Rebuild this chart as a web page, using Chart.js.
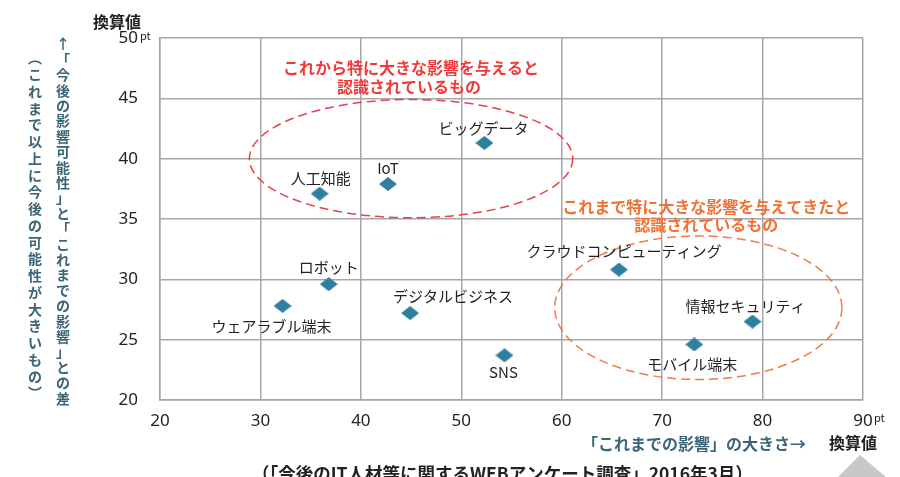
<!DOCTYPE html>
<html>
<head>
<meta charset="utf-8">
<script src="https://cdn.jsdelivr.net/npm/chart.js@4.4.1/dist/chart.umd.min.js"></script>
<style>
  html, body { margin: 0; padding: 0; background: #fff; }
  #wrap { width: 900px; height: 477px; }
</style>
</head>
<body>
<div id="wrap"><canvas id="impactChart"></canvas></div>
<script>
// values
const itemNames = ["人工知能", "IoT", "ビッグデータ", "ロボット", "ウェアラブル端末", "デジタルビジネス", "SNS", "クラウドコンピューティング", "情報セキュリティ", "モバイル端末"];
const pastImpact = [35.9, 42.7, 52.3, 36.8, 32.2, 44.9, 54.3, 65.7, 79.0, 73.2];
const impactGap = [37.1, 37.9, 41.3, 29.6, 27.8, 27.2, 23.7, 30.8, 26.5, 24.6];
const xTicks = [20, 30, 40, 50, 60, 70, 80, 90];
const yTicks = [20, 25, 30, 35, 40, 45, 50];

// pixel offsets of each item label from its marker
const labelOffsets = [[1, -15], [0, -16], [-1, -15], [0, -17], [-11, 20], [43, -17], [-1, 17], [5, -18], [-7, -15], [-2, 20]];

const JP = '"Noto Sans CJK JP", "Noto Sans", sans-serif';
const gridColor = "#a6a6a6";
const titleColor = "#3b6478";

const diamond = document.createElement("canvas");
diamond.width = 18;
diamond.height = 14;
const dctx = diamond.getContext("2d");
dctx.fillStyle = "#2f7f9f";
dctx.beginPath();
dctx.moveTo(9, 0);
dctx.lineTo(18, 7);
dctx.lineTo(9, 14);
dctx.lineTo(0, 7);
dctx.closePath();
dctx.fill();

const points = pastImpact.map((x, i) => ({ x: x, y: impactGap[i] }));

function drawVertical(ctx, text, x, y0, step) {
  let y = y0;
  for (const ch of text) {
    ctx.fillText(ch, x, y);
    y += step;
  }
}

function drawEllipse(ctx, xs, ys, cx, cy, rx, ry, color) {
  const px = xs.getPixelForValue(cx);
  const py = ys.getPixelForValue(cy);
  const prx = Math.abs(xs.getPixelForValue(cx + rx) - px);
  const pry = Math.abs(ys.getPixelForValue(cy + ry) - py);
  ctx.save();
  ctx.strokeStyle = color;
  ctx.lineWidth = 1.5;
  ctx.setLineDash([9, 5]);
  ctx.beginPath();
  ctx.ellipse(px, py, prx, pry, 0, 0, Math.PI * 2);
  ctx.stroke();
  ctx.restore();
}

const overlay = {
  id: "overlay",
  beforeDatasetsDraw(chart) {
    const ctx = chart.ctx;
    const xs = chart.scales.x, ys = chart.scales.y;
    drawEllipse(ctx, xs, ys, 45, 40, 16.1, 4.9, "#e8404a");
    drawEllipse(ctx, xs, ys, 73.6, 27.65, 14.3, 5.95, "#f07a4a");
  },
  afterDraw(chart) {
    const ctx = chart.ctx;
    const xs = chart.scales.x, ys = chart.scales.y;
    ctx.save();
    ctx.textAlign = "center";
    ctx.textBaseline = "middle";

    // item labels
    ctx.fillStyle = "#222";
    ctx.font = "15px " + JP;
    itemNames.forEach((name, i) => {
      const px = xs.getPixelForValue(pastImpact[i]) + labelOffsets[i][0];
      const py = ys.getPixelForValue(impactGap[i]) + labelOffsets[i][1];
      ctx.fillText(name, px, py);
    });

    // group notes
    ctx.font = "bold 16px " + JP;
    ctx.fillStyle = "#f03a3a";
    ctx.fillText("これから特に大きな影響を与えると", xs.getPixelForValue(45), ys.getPixelForValue(47.5));
    ctx.fillText("認識されているもの", xs.getPixelForValue(44.8), ys.getPixelForValue(45.95));
    ctx.fillStyle = "#f27030";
    ctx.fillText("これまで特に大きな影響を与えてきたと", xs.getPixelForValue(74.4), ys.getPixelForValue(36.0));
    ctx.fillText("認識されているもの", xs.getPixelForValue(74.4), ys.getPixelForValue(34.5));

    // axis titles
    ctx.fillStyle = "#222";
    ctx.font = "bold 16px " + JP;
    ctx.fillText("換算値", 117, 22);
    ctx.fillText("換算値", 853, 443);
    ctx.font = "11px " + JP;
    ctx.textAlign = "left";
    ctx.fillText("pt", 140, ys.getPixelForValue(50) - 2);
    ctx.fillText("pt", xs.getPixelForValue(90) + 11, 418);

    ctx.textAlign = "center";
    ctx.fillStyle = titleColor;
    ctx.font = "bold 14px " + JP;
    drawVertical(ctx, "↑「今後の影響可能性」と「これまでの影響」との差", 63, 44, 15.4);
    drawVertical(ctx, "︵これまで以上に今後の可能性が大きいもの︶", 35, 58, 16.75);

    ctx.textAlign = "right";
    ctx.font = "bold 16px " + JP;
    ctx.fillText("「これまでの影響」の大きさ→", 806, 444);

    ctx.textAlign = "left";
    ctx.fillStyle = "#222";
    ctx.font = "bold 17.5px " + JP;
    ctx.fillText("（「今後のIT人材等に関するWEBアンケート調査」2016年3月）", 252, 473);

    // page corner mark
    ctx.fillStyle = "#c8c8c8";
    ctx.beginPath();
    ctx.moveTo(838, 477);
    ctx.lineTo(860, 455);
    ctx.lineTo(886, 477);
    ctx.closePath();
    ctx.fill();
    ctx.restore();
  }
};

new Chart(document.getElementById("impactChart"), {
  type: "scatter",
  data: {
    datasets: [
      {
        label: "影響",
        data: points,
        pointStyle: diamond,
        pointRadius: 8,
        pointHoverRadius: 8,
      },
    ],
  },
  options: {
    responsive: true,
    maintainAspectRatio: false,
    animation: false,
    layout: { padding: { top: 38, right: 37, left: 0, bottom: 0 } },
    plugins: { legend: { display: false }, tooltip: { enabled: false } },
    scales: {
      x: {
        min: xTicks[0],
        max: xTicks[xTicks.length - 1],
        afterBuildTicks: (scale) => { scale.ticks = xTicks.map((v) => ({ value: v })); },
        afterFit: (scale) => { scale.height = 77; },
        grid: { color: gridColor, lineWidth: 1.5, drawTicks: false },
        border: { color: gridColor, width: 1.5 },
        ticks: { padding: 11, color: "#222", font: { family: "Noto Sans", size: 17 } },
      },
      y: {
        min: yTicks[0],
        max: yTicks[yTicks.length - 1],
        afterBuildTicks: (scale) => { scale.ticks = yTicks.map((v) => ({ value: v })); },
        afterFit: (scale) => { scale.width = 160; },
        grid: { color: gridColor, lineWidth: 1.5, drawTicks: false },
        border: { color: gridColor, width: 1.5 },
        ticks: { padding: 22, color: "#222", font: { family: "Noto Sans", size: 17 } },
      },
    },
  },
  plugins: [overlay],
});
</script>
</body>
</html>
